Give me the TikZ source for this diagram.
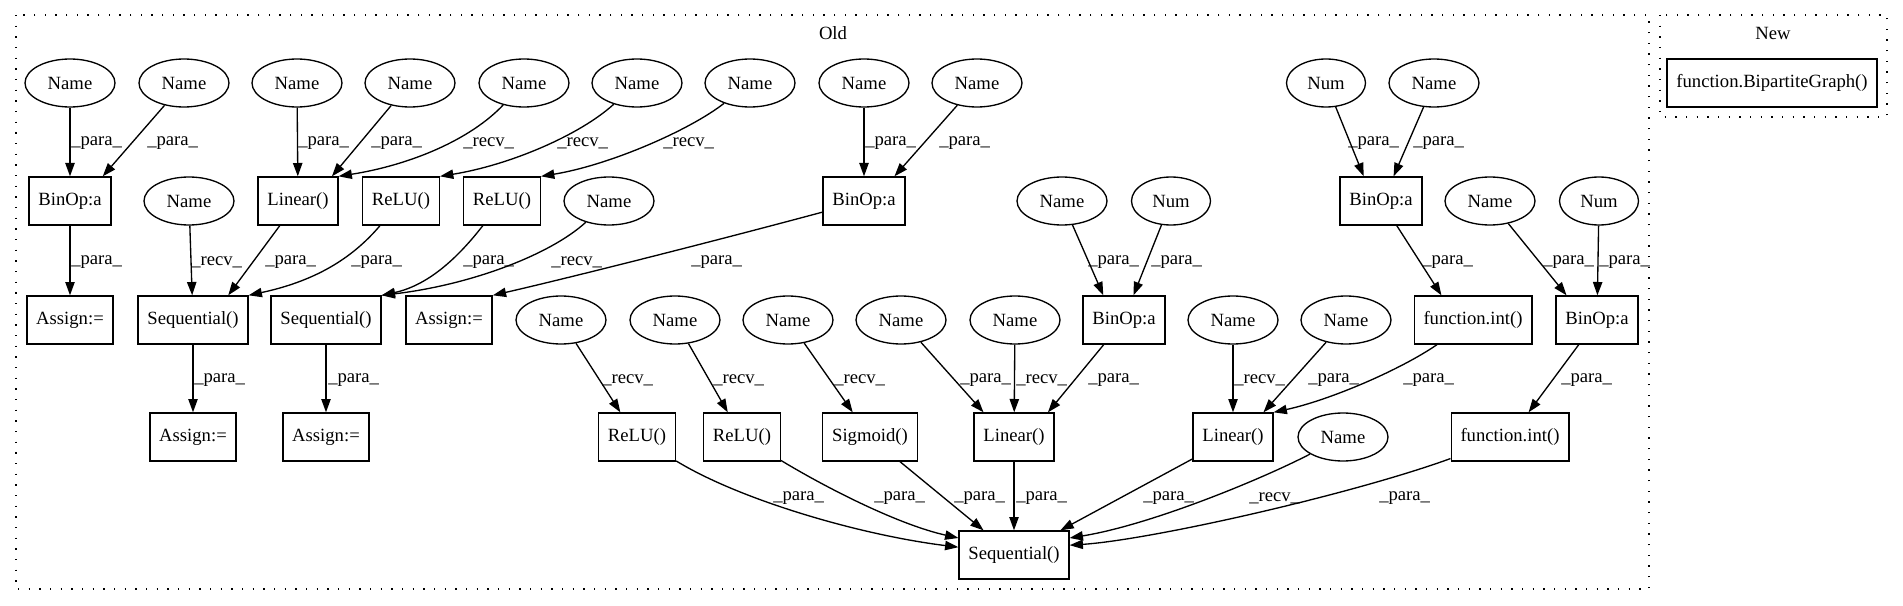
\documentclass[tikz,border=0pt]{standalone}
\usepackage{fontspec}
\setmainfont{Liberation Serif}
\usetikzlibrary{arrows.meta,shapes.geometric}
\begin{document}
\begin{tikzpicture}[x=0.75pt,y=-0.75pt,
  every node/.style={font=\fontsize{14pt}{16pt}\selectfont},
  nm/.style={draw,ellipse,line width=1pt,minimum width=67.5pt,minimum height=36pt,inner sep=0pt},
  nu/.style={nm,minimum width=59.25pt},
  bx/.style={draw,rectangle,line width=1pt,minimum height=36pt,minimum width=54pt,inner xsep=7pt,inner ysep=0pt},
  edg/.style={line width=1pt,-{Triangle[length=10pt,width=7pt]}},
  lb/.style={anchor=west,inner sep=0pt},
  cl/.style={line width=1pt,dash pattern=on 1pt off 7pt}]
\useasboundingbox (0,0) rectangle (1903,606);
% clusters
\draw[cl] (16,15) rectangle (1649,589);
\draw[cl] (1660,15) rectangle (1887,117);
\node (oldlbl) at (833,33) {Old};
\node (newlbl) at (1773,33) {New};
\node[bx] (bg) at (1772,83) {function.BipartiteGraph()};
% rank 0
\node[nm] (a1) at (70,83) {Name};
\node[nm] (a2) at (184,83) {Name};
\node[nm] (a3) at (297,83) {Name};
\node[nm] (a4) at (410,83) {Name};
\node[nm] (a5) at (524,83) {Name};
\node[nm] (a6) at (637,83) {Name};
\node[nm] (a7) at (750,83) {Name};
\node[nm] (a8) at (864,83) {Name};
\node[nm] (a9) at (977,83) {Name};
\node[nu] (a10) at (1326,83) {Num};
\node[nm] (a11) at (1434,83) {Name};
% rank 1
\node[bx] (b1) at (70,201) {BinOp:a};
\node[nm] (b2) at (189,201) {Name};
\node[bx] (b3) at (298,201) {Linear()};
\node[bx] (b4) at (401,201) {ReLU()};
\node[bx] (b5) at (502,201) {ReLU()};
\node[nm] (b6) at (609,201) {Name};
\node[bx] (b7) at (864,201) {BinOp:a};
\node[nm] (b8) at (1062,201) {Name};
\node[nu] (b9) at (1171,201) {Num};
\node[bx] (b10) at (1381,201) {BinOp:a};
\node[nm] (b11) at (1490,201) {Name};
\node[nu] (b12) at (1599,201) {Num};
% rank 2
\node[bx] (c1) at (70,320) {Assign:=};
\node[bx] (c2) at (193,320) {Sequential()};
\node[bx] (c3) at (326,320) {Sequential()};
\node[bx] (c4) at (449,320) {Assign:=};
\node[nm] (c5) at (561,320) {Name};
\node[nm] (c6) at (675,320) {Name};
\node[nm] (c7) at (788,320) {Name};
\node[nm] (c8) at (901,320) {Name};
\node[nm] (c9) at (1015,320) {Name};
\node[bx] (c10) at (1124,320) {BinOp:a};
\node[nm] (c11) at (1233,320) {Name};
\node[nm] (c12) at (1346,320) {Name};
\node[bx] (c13) at (1473,320) {function.int()};
\node[bx] (c14) at (1597,320) {BinOp:a};
% rank 3
\node[bx] (d1) at (193,437) {Assign:=};
\node[bx] (d2) at (326,437) {Assign:=};
\node[bx] (d3) at (637,437) {ReLU()};
\node[bx] (d4) at (742,437) {ReLU()};
\node[bx] (d5) at (870,437) {Sigmoid()};
\node[bx] (d6) at (1014,437) {Linear()};
\node[bx] (d7) at (1233,437) {Linear()};
\node[nm] (d8) at (1343,437) {Name};
\node[bx] (d9) at (1510,437) {function.int()};
% rank 4
\node[bx] (e1) at (1014,555) {Sequential()};
% edges rank 0 -> 1
\draw[edg] (a1) -- (b1);
\draw[edg] (a2) -- (b1.37);
\draw[edg] (a3) -- (b3);
\draw[edg] (a4) -- (b3.36);
\draw[edg] (a5) .. controls (470,140) and (410,165) .. (b3.north east);
\draw[edg] (a6) .. controls (580,135) and (510,165) .. (b4.north east);
\draw[edg] (a7) .. controls (690,130) and (610,165) .. (b5.north east);
\draw[edg] (a8) -- (b7);
\draw[edg] (a9) -- (b7.39);
\draw[edg] (a10) -- (b10.125);
\draw[edg] (a11) -- (b10.63);
% edges rank 1 -> 2
\draw[edg] (b1) -- (c1);
\draw[edg] (b2) -- (c2);
\draw[edg] (b3) -- (c2.35);
\draw[edg] (b4) .. controls (355,255) and (320,280) .. (c2.north east);
\draw[edg] (b5) .. controls (460,255) and (430,285) .. (c3.north east);
\draw[edg] (b6) .. controls (550,255) and (470,285) .. (c3.north east);
\draw[edg] (b7) .. controls (700,245) and (560,280) .. (c4.north east);
\draw[edg] (b8) -- (c10.130);
\draw[edg] (b9) -- (c10.69);
\draw[edg] (b10) -- (c13.142);
\draw[edg] (b11) -- (c14.141);
\draw[edg] (b12) -- (c14);
% edges rank 2 -> 3
\draw[edg] (c2) -- (d1);
\draw[edg] (c3) -- (d2);
\draw[edg] (c5) -- (d3.124);
\draw[edg] (c6) -- (d4.120);
\draw[edg] (c7) -- (d5.125);
\draw[edg] (c8) -- (d6.141);
\draw[edg] (c9) -- (d6);
\draw[edg] (c10) -- (d6.36);
\draw[edg] (c11) -- (d7);
\draw[edg] (c12) -- (d7.39);
\draw[edg] (c13) .. controls (1400,370) and (1330,400) .. (d7.north east);
\draw[edg] (c14) -- (d9.53);
% edges rank 3 -> 4
\draw[edg] (d3) .. controls (740,500) and (860,535) .. (e1.172);
\draw[edg] (d4) .. controls (830,490) and (900,525) .. (e1.163);
\draw[edg] (d5) -- (e1.141);
\draw[edg] (d6) -- (e1);
\draw[edg] (d7) -- (e1.28);
\draw[edg] (d8) .. controls (1260,480) and (1150,525) .. (e1.17);
\draw[edg] (d9) .. controls (1350,495) and (1150,540) .. (e1.10);
% labels
\node[lb] (l1) at (71,143) {\_para\_};
\node[lb] (l2) at (147,143) {\_para\_};
\node[lb] (l3) at (298,143) {\_para\_};
\node[lb] (l4) at (371,143) {\_para\_};
\node[lb] (l5) at (463,143) {\_recv\_};
\node[lb] (l6) at (557,143) {\_recv\_};
\node[lb] (l7) at (663,143) {\_recv\_};
\node[lb] (l8) at (865,143) {\_para\_};
\node[lb] (l9) at (939,143) {\_para\_};
\node[lb] (l10) at (1348,143) {\_para\_};
\node[lb] (l11) at (1413,143) {\_para\_};
\node[lb] (l12) at (71,262) {\_para\_};
\node[lb] (l13) at (191,262) {\_recv\_};
\node[lb] (l14) at (265,262) {\_para\_};
\node[lb] (l15) at (351,262) {\_para\_};
\node[lb] (l16) at (463,262) {\_para\_};
\node[lb] (l17) at (551,262) {\_recv\_};
\node[lb] (l18) at (691,262) {\_para\_};
\node[lb] (l19) at (1088,262) {\_para\_};
\node[lb] (l20) at (1151,262) {\_para\_};
\node[lb] (l21) at (1422,262) {\_para\_};
\node[lb] (l22) at (1543,262) {\_para\_};
\node[lb] (l23) at (1599,262) {\_para\_};
\node[lb] (l24) at (194,380) {\_para\_};
\node[lb] (l25) at (328,380) {\_para\_};
\node[lb] (l26) at (602,380) {\_recv\_};
\node[lb] (l27) at (713,380) {\_recv\_};
\node[lb] (l28) at (834,380) {\_recv\_};
\node[lb] (l29) at (960,380) {\_para\_};
\node[lb] (l30) at (1016,380) {\_recv\_};
\node[lb] (l31) at (1088,380) {\_para\_};
\node[lb] (l32) at (1234,380) {\_recv\_};
\node[lb] (l33) at (1308,380) {\_para\_};
\node[lb] (l34) at (1403,380) {\_para\_};
\node[lb] (l35) at (1561,380) {\_para\_};
\node[lb] (l36) at (773,498) {\_para\_};
\node[lb] (l37) at (874,498) {\_para\_};
\node[lb] (l38) at (954,498) {\_para\_};
\node[lb] (l39) at (1016,498) {\_para\_};
\node[lb] (l40) at (1143,498) {\_para\_};
\node[lb] (l41) at (1249,498) {\_recv\_};
\node[lb] (l42) at (1379,498) {\_para\_};
\end{tikzpicture}
\end{document}
